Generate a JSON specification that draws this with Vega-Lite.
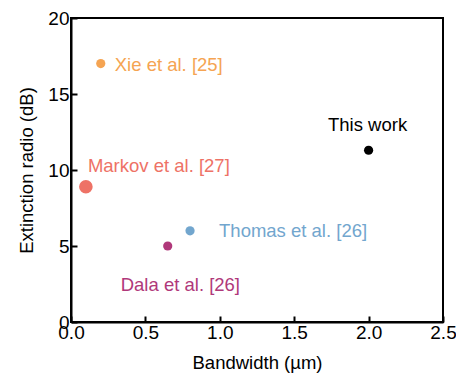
{
  "$schema": "https://vega.github.io/schema/vega-lite/v6.json",
  "width": 372,
  "height": 304,
  "autosize": {"type": "none"},
  "padding": {"left": 71, "top": 18, "right": 13, "bottom": 58},
  "config": {
    "font": "Liberation Sans",
    "view": {"stroke": "#000000", "strokeWidth": 2},
    "axis": {
      "domainColor": "#000000",
      "domainWidth": 2,
      "tickColor": "#000000",
      "tickWidth": 2,
      "tickSize": -6,
      "grid": false,
      "labelFlush": false,
      "labelFont": "Liberation Sans",
      "labelFontSize": 19,
      "labelColor": "#000000",
      "titleFont": "Liberation Sans",
      "titleFontSize": 18.5,
      "titleFontWeight": "normal",
      "titleColor": "#000000"
    }
  },
  "data": {
    "values": [
      {"name": "Xie et al. [25]", "bandwidth": 0.2, "er": 17.0, "big": 0},
      {"name": "Markov et al. [27]", "bandwidth": 0.1, "er": 8.9, "big": 1},
      {"name": "Thomas et al. [26]", "bandwidth": 0.8, "er": 6.0, "big": 0},
      {"name": "Dala et al. [26]", "bandwidth": 0.65, "er": 5.0, "big": 0},
      {"name": "This work", "bandwidth": 2.0, "er": 11.3, "big": 0}
    ]
  },
  "encoding": {
    "x": {
      "field": "bandwidth",
      "type": "quantitative",
      "scale": {"domain": [0, 2.5], "nice": false, "zero": false, "padding": 0},
      "axis": {
        "title": "Bandwidth (µm)",
        "values": [0, 0.5, 1, 1.5, 2, 2.5],
        "format": ".1f",
        "labelPadding": 7,
        "titlePadding": 11
      }
    },
    "y": {
      "field": "er",
      "type": "quantitative",
      "scale": {"domain": [0, 20], "nice": false, "zero": false, "padding": 0},
      "axis": {
        "title": "Extinction radio (dB)",
        "values": [0, 5, 10, 15, 20],
        "labelPadding": 8,
        "titlePadding": 11
      }
    },
    "color": {
      "field": "name",
      "type": "nominal",
      "legend": null,
      "scale": {
        "domain": ["Xie et al. [25]", "Markov et al. [27]", "Thomas et al. [26]", "Dala et al. [26]", "This work"],
        "range": ["#F5A452", "#EE7266", "#72A6CE", "#B0387A", "#000000"]
      }
    }
  },
  "layer": [
    {
      "mark": {"type": "circle", "opacity": 1},
      "encoding": {
        "size": {
          "field": "big",
          "type": "quantitative",
          "legend": null,
          "scale": {"domain": [0, 1], "range": [85, 185]}
        }
      }
    },
    {
      "transform": [{"filter": "datum.name === 'Xie et al. [25]'"}],
      "mark": {"type": "text", "align": "left", "baseline": "middle", "dx": 14, "dy": 1, "fontSize": 18.5},
      "encoding": {"text": {"field": "name"}}
    },
    {
      "transform": [{"filter": "datum.name === 'Markov et al. [27]'"}],
      "mark": {"type": "text", "align": "left", "baseline": "middle", "dx": 2, "dy": -21, "fontSize": 18.5},
      "encoding": {"text": {"field": "name"}}
    },
    {
      "transform": [{"filter": "datum.name === 'Thomas et al. [26]'"}],
      "mark": {"type": "text", "align": "left", "baseline": "middle", "dx": 29, "dy": 0, "fontSize": 18.5},
      "encoding": {"text": {"field": "name"}}
    },
    {
      "transform": [{"filter": "datum.name === 'Dala et al. [26]'"}],
      "mark": {"type": "text", "align": "left", "baseline": "middle", "dx": -47, "dy": 39, "fontSize": 18.5},
      "encoding": {"text": {"field": "name"}}
    },
    {
      "transform": [{"filter": "datum.name === 'This work'"}],
      "mark": {"type": "text", "align": "center", "baseline": "middle", "dx": -1, "dy": -25, "fontSize": 18.5},
      "encoding": {"text": {"field": "name"}}
    }
  ]
}
